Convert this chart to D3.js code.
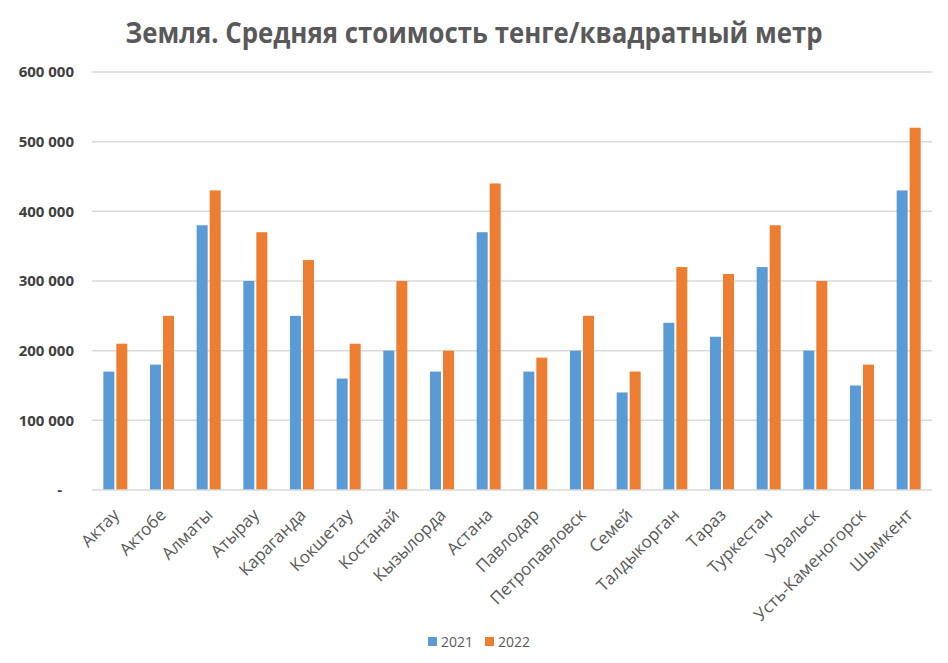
<!DOCTYPE html>
<html><head><meta charset="utf-8">
<script src="https://cdn.jsdelivr.net/npm/d3@7"></script>
<style>body{margin:0;background:#fff}svg{display:block}</style>
</head><body>
<script>
const categories = ["Актау","Актобе","Алматы","Атырау","Караганда","Кокшетау","Костанай","Кызылорда","Астана","Павлодар","Петропавловск","Семей","Талдыкорган","Тараз","Туркестан","Уральск","Усть-Каменогорск","Шымкент"];
const values2021 = [170000,180000,380000,300000,250000,160000,200000,170000,370000,170000,200000,140000,240000,220000,320000,200000,150000,430000];
const values2022 = [210000,250000,430000,370000,330000,210000,300000,200000,440000,190000,250000,170000,320000,310000,380000,300000,180000,520000];
const seriesNames = ["2021","2022"];
const yTicks = [0,100000,200000,300000,400000,500000,600000];
const title = "Земля. Средняя стоимость тенге/квадратный метр";

const W = 948, H = 663;
const m = {left: 92, right: 16, top: 72, bottom: 173};
const colors = ["#5b9bd5","#ed7d31"];
const svg = d3.select("body").append("svg").attr("width", W).attr("height", H);

const x = d3.scaleBand().domain(categories).range([m.left, W - m.right]);
const y = d3.scaleLinear().domain([0, 600000]).range([H - m.bottom, m.top]);

// title
svg.append("text").attr("x", 474).attr("y", 43).attr("text-anchor", "middle")
  .attr("font-family", "Open Sans, sans-serif").attr("font-weight", "bold")
  .attr("font-size", 28).attr("fill", "#595959")
  .attr("textLength", 697).attr("lengthAdjust", "spacingAndGlyphs")
  .text(title);

// gridlines
svg.append("g").selectAll("line").data(yTicks.slice(1)).join("line")
  .attr("x1", m.left).attr("x2", W - m.right)
  .attr("y1", d => y(d)).attr("y2", d => y(d))
  .attr("stroke", "#d9d9d9").attr("stroke-width", 1.5);

// y axis labels
const fmt = d => d === 0 ? "-" : d3.format(",")(d).replace(/,/g, " ");
const yAxis = d3.axisLeft(y).tickValues(yTicks).tickFormat(fmt).tickSize(0).tickPadding(18);
const ya = svg.append("g").attr("transform", `translate(${m.left},0)`).call(yAxis);
ya.select(".domain").remove();
ya.selectAll("text").attr("font-family", "Liberation Sans Narrow, Open Sans, sans-serif")
  .attr("font-weight", "bold").attr("font-size", 15).attr("fill", "#404040");
ya.selectAll(".tick").filter(d => d === 0).select("text").attr("x", -30);

// bars
const bw = 11, gap = 2;
const groups = svg.append("g").selectAll("g").data(categories).join("g")
  .attr("transform", d => `translate(${x(d) + x.bandwidth() / 2},0)`);
[values2021, values2022].forEach((vals, si) => {
  groups.append("rect")
    .attr("x", si === 0 ? -bw - gap / 2 : gap / 2)
    .attr("width", bw)
    .attr("y", (d, i) => y(vals[i]))
    .attr("height", (d, i) => y(0) - y(vals[i]))
    .attr("fill", colors[si]);
});

// baseline
svg.append("line").attr("x1", m.left).attr("x2", W - m.right)
  .attr("y1", y(0)).attr("y2", y(0)).attr("stroke", "#d9d9d9").attr("stroke-width", 1.5);

// x labels
const xAxis = d3.axisBottom(x).tickSize(0).tickPadding(0);
const xa = svg.append("g").attr("transform", `translate(0,${y(0)})`).call(xAxis);
xa.select(".domain").remove();
xa.selectAll("text")
  .attr("font-family", "Open Sans, sans-serif").attr("font-size", 17).attr("fill", "#595959")
  .attr("text-anchor", "end").attr("dy", 0).attr("y", 0)
  .attr("transform", "translate(5,26) rotate(-45)");

// legend
const leg = svg.append("g");
const lx = [428, 485];
seriesNames.forEach((s, i) => {
  leg.append("rect").attr("x", lx[i]).attr("y", 637).attr("width", 9).attr("height", 9).attr("fill", colors[i]);
  leg.append("text").attr("x", lx[i] + 13).attr("y", 647).attr("font-family", "Open Sans, sans-serif")
    .attr("font-size", 14).attr("fill", "#595959").text(s);
});
</script>
</body></html>
